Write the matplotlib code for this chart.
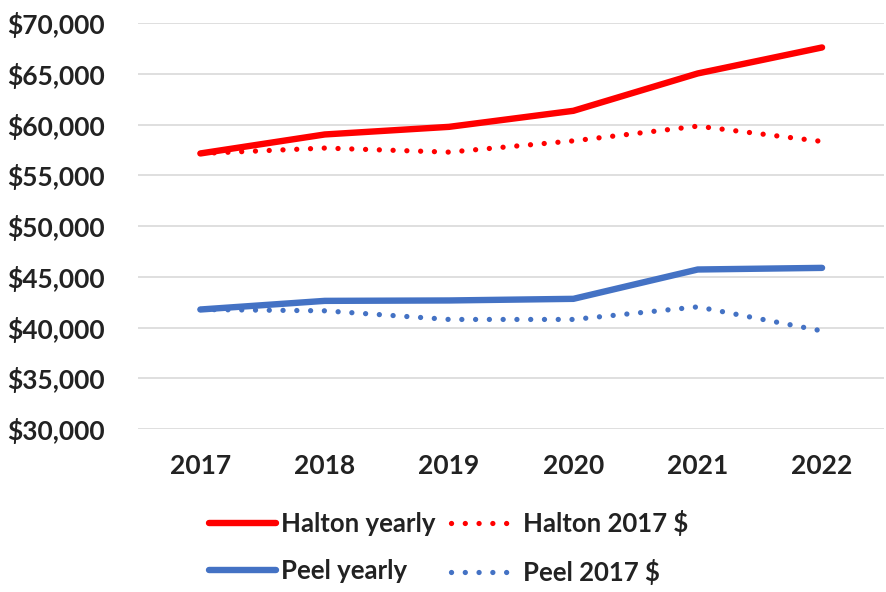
import matplotlib.pyplot as plt
from matplotlib.ticker import FuncFormatter

years = ["2017", "2018", "2019", "2020", "2021", "2022"]
halton_yearly = [57160, 59030, 59780, 61360, 65040, 67600]
halton_2017 = [57160, 57690, 57290, 58400, 59850, 58340]
peel_yearly = [41790, 42640, 42680, 42840, 45730, 45890]
peel_2017 = [41790, 41660, 40810, 40810, 42050, 39680]

RED = "#FF0000"
BLUE = "#4472C4"
DOTS = (0, (0.01, 2.6))


def main() -> None:
    plt.rcParams["font.family"] = ["Lato", "DejaVu Sans"]
    plt.rcParams["font.weight"] = "bold"

    fig = plt.figure(figsize=(8.86, 5.92), dpi=100)
    ax = fig.add_axes([0.156, 0.275, 0.842, 0.686])

    x = range(len(years))
    ax.plot(x, halton_yearly, color=RED, lw=4.6, solid_capstyle="round",
            solid_joinstyle="round", label="Halton yearly")
    ax.plot(x, halton_2017, color=RED, lw=3.8, ls=DOTS, dash_capstyle="round",
            label="Halton 2017 $")
    ax.plot(x, peel_yearly, color=BLUE, lw=4.6, solid_capstyle="round",
            solid_joinstyle="round", label="Peel yearly")
    ax.plot(x, peel_2017, color=BLUE, lw=3.8, ls=DOTS, dash_capstyle="round",
            label="Peel 2017 $")

    ax.set_xlim(-0.5, len(years) - 0.5)
    ax.set_ylim(30000, 70000)
    ax.set_yticks(range(30000, 70001, 5000))
    ax.yaxis.set_major_formatter(FuncFormatter(lambda v, _: f"${v:,.0f}"))
    ax.set_xticks(list(x))
    ax.set_xticklabels(years)

    ax.grid(axis="y", color="#D9D9D9", lw=1.2)
    ax.set_axisbelow(True)
    for s in ax.spines.values():
        s.set_visible(False)
    ax.tick_params(axis="both", length=0, labelsize=19, labelcolor="#222222")
    ax.tick_params(axis="y", pad=24)
    ax.tick_params(axis="x", pad=18)

    handles, labels = ax.get_legend_handles_labels()
    order = [0, 2, 1, 3]
    fig.legend([handles[i] for i in order], [labels[i] for i in order],
               ncol=2, loc="center", bbox_to_anchor=(0.506, 0.075),
               frameon=False, fontsize=18.5, handlelength=2.6,
               handletextpad=0.2, columnspacing=0.6, labelspacing=0.9,
               labelcolor="#222222")

    fig.savefig("out.png", dpi=100)
    plt.close(fig)


if __name__ == "__main__":
    main()
